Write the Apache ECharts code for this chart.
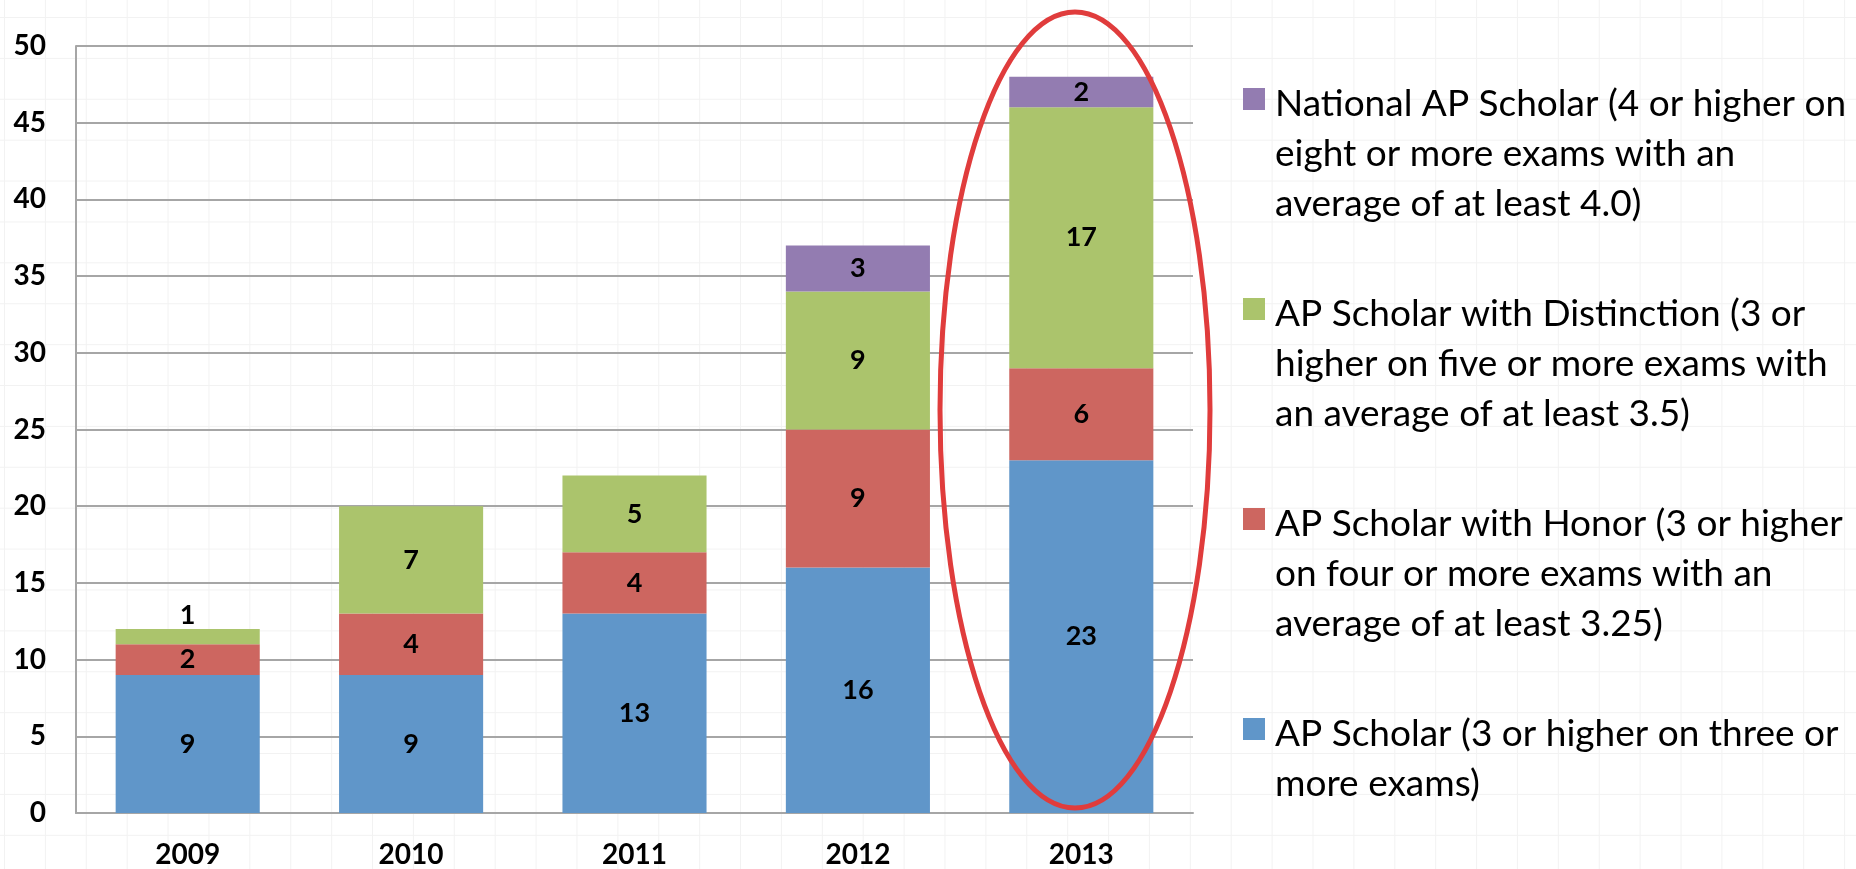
<!DOCTYPE html>
<html>
<head>
<meta charset="utf-8">
<script src="https://cdn.jsdelivr.net/npm/echarts@6/dist/echarts.min.js"></script>
<style>
  html, body { margin: 0; padding: 0; }
  body {
    width: 1856px; height: 869px;
    background-color: #fff;
    background-image:
      linear-gradient(to right, #f2f2f2 1px, transparent 1px),
      linear-gradient(to bottom, #f2f2f2 1px, transparent 1px);
    background-size: 40.9px 40.9px;
    background-position: 4px 17px;
  }
  #main { width: 1856px; height: 869px; }
</style>
</head>
<body>
<div id="main"></div>
<script>
var years = ['2009', '2010', '2011', '2012', '2013'];
var apScholar = [9, 9, 13, 16, 23];
var withHonor = [2, 4, 4, 9, 6];
var withDistinction = [1, 7, 5, 9, 17];
var nationalScholar = [null, null, null, 3, 2];

var yTicks = { min: 0, max: 50, interval: 5 };

// legend text, wrapped the way the original shows it
var legendLines = [
    ['National AP Scholar (4 or higher on', 'eight or more exams with an', 'average of at least 4.0)'],
    ['AP Scholar with Distinction (3 or', 'higher on five or more exams with', 'an average of at least 3.5)'],
    ['AP Scholar with Honor (3 or higher', 'on four or more exams with an', 'average of at least 3.25)'],
    ['AP Scholar (3 or higher on three or', 'more exams)']
];
var legendNames = legendLines.map(function (l) { return l.join(' '); });

var colors = {
    national: '#937cb1',
    distinction: '#abc46c',
    honor: '#cd6660',
    scholar: '#6096c9'
};
var legendColors = [colors.national, colors.distinction, colors.honor, colors.scholar];

var LH = 50;

function segLabel(v) {
    // a one-high segment has its number sitting above the bar
    if (v === 1) {
        return { value: v, label: { position: 'top', distance: 0 } };
    }
    return v;
}

function barSeries(name, values, color) {
    return {
        name: name,
        type: 'bar',
        stack: 'total',
        barWidth: '64.5%',
        itemStyle: { color: color },
        label: {
            show: true,
            position: 'inside',
            color: '#000',
            fontFamily: 'Lato',
            fontWeight: 'bold',
            fontSize: 27
        },
        data: values.map(segLabel)
    };
}

var rich = {
    t: { fontFamily: 'Lato', fontSize: 37, color: '#000', lineHeight: LH, padding: [10, 0, 0, 0] },
    g: { width: 10, height: 10, lineHeight: LH },
    ind: { width: 32, height: 10, lineHeight: LH }
};
legendColors.forEach(function (c, i) {
    rich['m' + i] = { width: 22, height: 22, lineHeight: LH, backgroundColor: c };
});

var myChart = echarts.init(document.getElementById('main'));
myChart.setOption({
    animation: false,
    backgroundColor: 'transparent',
    grid: { left: 76, right: 663, top: 46, bottom: 56, outerBoundsMode: 'none' },
    legend: {
        orient: 'vertical',
        left: 1237,
        top: 74,
        padding: 0,
        itemGap: 60,
        itemWidth: 1,
        itemHeight: 1,
        icon: 'none',
        selectedMode: false,
        data: legendNames,
        textStyle: { fontFamily: 'Lato', fontSize: 37, lineHeight: LH, rich: rich },
        formatter: function (name) {
            var i = legendNames.indexOf(name);
            var lines = legendLines[i];
            return lines.map(function (l, k) {
                return (k === 0 ? '{m' + i + '|}{g|}' : '{ind|}') + '{t|' + l + '}';
            }).join('\n');
        }
    },
    xAxis: {
        type: 'category',
        data: years,
        axisLine: { lineStyle: { color: '#a6a6a6', width: 2 } },
        axisTick: { show: false },
        axisLabel: {
            color: '#000',
            fontFamily: 'Lato',
            fontWeight: 'bold',
            fontSize: 28,
            margin: 28
        }
    },
    yAxis: {
        type: 'value',
        min: yTicks.min,
        max: yTicks.max,
        interval: yTicks.interval,
        axisLine: { show: true, lineStyle: { color: '#a6a6a6', width: 2 } },
        axisTick: { show: false },
        splitLine: { lineStyle: { color: '#a6a6a6', width: 2 } },
        axisLabel: {
            color: '#000',
            fontFamily: 'Lato',
            fontWeight: 'bold',
            fontSize: 28,
            margin: 30
        }
    },
    series: [
        barSeries(legendNames[3], apScholar, colors.scholar),
        barSeries(legendNames[2], withHonor, colors.honor),
        barSeries(legendNames[1], withDistinction, colors.distinction),
        barSeries(legendNames[0], nationalScholar, colors.national)
    ],
    graphic: [{
        type: 'ellipse',
        z: 100,
        shape: { cx: 1075, cy: 410, rx: 135, ry: 398 },
        style: { fill: 'none', stroke: '#e03c3c', lineWidth: 5 }
    }]
});
</script>
</body>
</html>
